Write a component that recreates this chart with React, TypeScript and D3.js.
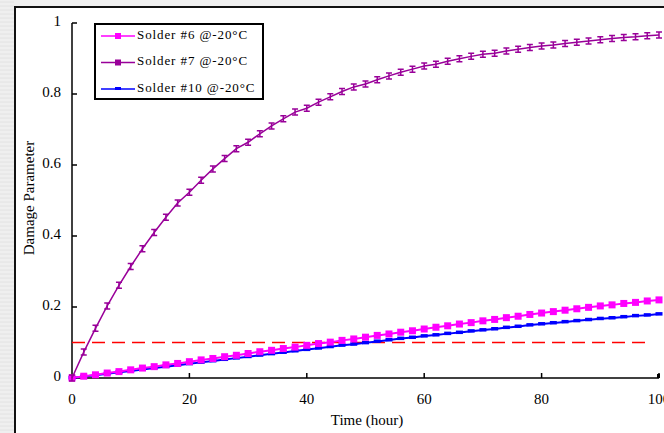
import React, { useRef, useEffect } from 'react';
import * as d3 from 'd3';

// time in hours, shared by all three series
const hours = [0, 2, 4, 6, 8, 10, 12, 14, 16, 18, 20, 22, 24, 26, 28, 30, 32, 34, 36, 38, 40,
  42, 44, 46, 48, 50, 52, 54, 56, 58, 60, 62, 64, 66, 68, 70, 72, 74, 76, 78, 80,
  82, 84, 86, 88, 90, 92, 94, 96, 98, 100];

const solder6 = [0, 0.005, 0.009, 0.014, 0.018, 0.023, 0.028, 0.032, 0.037, 0.041, 0.046,
  0.051, 0.055, 0.060, 0.064, 0.069, 0.074, 0.078, 0.083, 0.087, 0.092,
  0.097, 0.101, 0.106, 0.110, 0.115, 0.120, 0.124, 0.129, 0.133, 0.138,
  0.143, 0.147, 0.152, 0.156, 0.161, 0.165, 0.170, 0.174, 0.179, 0.183,
  0.187, 0.191, 0.195, 0.199, 0.203, 0.206, 0.210, 0.213, 0.217, 0.220];

const solder7 = [0, 0.073, 0.140, 0.203, 0.261, 0.314, 0.364, 0.410, 0.453, 0.493, 0.523,
  0.557, 0.589, 0.618, 0.646, 0.664, 0.688, 0.710, 0.730, 0.749, 0.760,
  0.777, 0.792, 0.807, 0.820, 0.828, 0.840, 0.851, 0.861, 0.870, 0.879,
  0.884, 0.892, 0.899, 0.906, 0.912, 0.915, 0.921, 0.926, 0.931, 0.935,
  0.938, 0.942, 0.946, 0.949, 0.953, 0.956, 0.959, 0.961, 0.964, 0.966];

const solder10 = [0, 0.004, 0.008, 0.012, 0.016, 0.020, 0.024, 0.028, 0.032, 0.036, 0.040,
  0.044, 0.048, 0.052, 0.056, 0.060, 0.064, 0.068, 0.072, 0.076, 0.080,
  0.084, 0.088, 0.092, 0.095, 0.099, 0.103, 0.107, 0.111, 0.114, 0.118,
  0.121, 0.125, 0.128, 0.132, 0.135, 0.138, 0.142, 0.145, 0.149, 0.152,
  0.155, 0.158, 0.161, 0.164, 0.167, 0.169, 0.172, 0.175, 0.177, 0.180];

const threshold = 0.1;
const xTicks = [0, 20, 40, 60, 80, 100];
const yTicks = [0, 0.2, 0.4, 0.6, 0.8, 1];
const legendLabels = ['Solder #6 @-20°C', 'Solder #7 @-20°C', 'Solder #10 @-20°C'];

const App = () => {
  const chartRef = useRef(null);

  useEffect(() => {
    const el = chartRef.current;
    if (!el) return;
    d3.select(el).selectAll('*').remove();

    const width = 664;
    const height = 433;
    const font = '"Liberation Serif", "Times New Roman", serif';

    const x = d3.scaleLinear().domain([0, 100]).range([72, 659]);
    const y = d3.scaleLinear().domain([0, 1]).range([378, 23]);

    const svg = d3.select(el)
      .append('svg')
      .attr('width', width)
      .attr('height', height)
      .attr('style', 'position:absolute;left:0;top:0;background:#fff');

    // grey page border, like a slide frame
    svg.append('rect').attr('x', 0).attr('y', 0).attr('width', 14).attr('height', height).attr('fill', '#efefef');
    svg.append('rect').attr('x', 0).attr('y', 0).attr('width', width).attr('height', 6).attr('fill', '#efefef');
    svg.append('g')
      .selectAll('line')
      .data(d3.range(2, height, 4))
      .join('line')
      .attr('x1', 0).attr('x2', 14)
      .attr('y1', d => d).attr('y2', d => d)
      .attr('stroke', '#e2e2e2');
    svg.append('path')
      .attr('d', `M15,${height} L15,7 L${width},7`)
      .attr('fill', 'none')
      .attr('stroke', '#111')
      .attr('stroke-width', 2);

    // axes
    const axis = svg.append('g').attr('stroke', '#000').attr('stroke-width', 1.5);
    axis.append('line').attr('x1', x(0)).attr('x2', x(0)).attr('y1', y(1)).attr('y2', y(0));
    axis.append('line').attr('x1', x(0)).attr('x2', x(100)).attr('y1', y(0)).attr('y2', y(0));
    axis.selectAll('.yt').data(yTicks).join('line')
      .attr('x1', x(0)).attr('x2', x(0) + 5)
      .attr('y1', d => y(d)).attr('y2', d => y(d));
    axis.selectAll('.xt').data(xTicks.slice(1)).join('line')
      .attr('x1', d => x(d)).attr('x2', d => x(d))
      .attr('y1', y(0)).attr('y2', y(0) - 5);
    svg.append('rect').attr('x', x(100) - 2).attr('y', y(0) - 4).attr('width', 3).attr('height', 4).attr('fill', '#000');

    svg.append('g').selectAll('text').data(yTicks).join('text')
      .attr('x', 61).attr('y', d => y(d))
      .attr('text-anchor', 'end').attr('dominant-baseline', 'middle')
      .attr('font-family', font).attr('font-size', 15)
      .text(d => d3.format('~g')(d));

    // the last label runs past the right edge, as in the original
    svg.append('g').selectAll('text').data(xTicks).join('text')
      .attr('x', d => x(d)).attr('y', 401)
      .attr('text-anchor', 'middle').attr('dominant-baseline', 'middle')
      .attr('font-family', font).attr('font-size', 15)
      .text(d => d);

    svg.append('text')
      .attr('transform', 'translate(31,198) rotate(-90)')
      .attr('text-anchor', 'middle').attr('dominant-baseline', 'middle')
      .attr('font-family', font).attr('font-size', 15)
      .text('Damage Parameter');

    svg.append('text')
      .attr('x', 367).attr('y', 422)
      .attr('text-anchor', 'middle').attr('dominant-baseline', 'middle')
      .attr('font-family', font).attr('font-size', 15)
      .text('Time (hour)');

    // threshold line
    svg.append('line')
      .attr('x1', x(0)).attr('x2', x(98.5))
      .attr('y1', y(threshold)).attr('y2', y(threshold))
      .attr('stroke', '#ff0000').attr('stroke-width', 1.5)
      .attr('stroke-dasharray', '13,7');

    const line = d3.line().x(d => x(d[0])).y(d => y(d[1]));
    const pts = vals => hours.map((h, i) => [h, vals[i]]);

    // solder #10 (blue)
    svg.append('path').datum(pts(solder10))
      .attr('fill', 'none').attr('stroke', '#0000ff').attr('stroke-width', 2).attr('d', line);
    svg.append('g').selectAll('rect').data(pts(solder10)).join('rect')
      .attr('x', d => x(d[0]) - 3.5).attr('y', d => y(d[1]) - 2)
      .attr('width', 7).attr('height', 3.5).attr('fill', '#0000ff');

    // solder #6 (magenta)
    svg.append('path').datum(pts(solder6))
      .attr('fill', 'none').attr('stroke', '#ff00ff').attr('stroke-width', 2).attr('d', line);
    svg.append('g').selectAll('rect').data(pts(solder6)).join('rect')
      .attr('x', d => x(d[0]) - 3.5).attr('y', d => y(d[1]) - 3.5)
      .attr('width', 7).attr('height', 7).attr('fill', '#ff00ff');

    // solder #7 (purple)
    svg.append('path').datum(pts(solder7))
      .attr('fill', 'none').attr('stroke', '#990099').attr('stroke-width', 1.5).attr('d', line);
    svg.append('g').selectAll('path').data(pts(solder7)).join('path')
      .attr('transform', d => `translate(${x(d[0])},${y(d[1])})`)
      .attr('d', 'M-3,-3L3,-3M0,-3L0,3M-3,3L3,3')
      .attr('fill', 'none').attr('stroke', '#990099').attr('stroke-width', 1.5);

    // legend
    const legend = svg.append('g');
    legend.append('rect')
      .attr('x', 95).attr('y', 24).attr('width', 168).attr('height', 75)
      .attr('fill', '#fff').attr('stroke', '#000').attr('stroke-width', 2);
    const colors = ['#ff00ff', '#990099', '#0000ff'];
    legendLabels.forEach((label, i) => {
      const ly = 36 + i * 26.5;
      legend.append('line').attr('x1', 101).attr('x2', 135).attr('y1', ly).attr('y2', ly)
        .attr('stroke', colors[i]).attr('stroke-width', 1.5);
      if (i < 2) {
        legend.append('rect').attr('x', 115).attr('y', ly - 3).attr('width', 6).attr('height', 6).attr('fill', colors[i]);
      } else {
        legend.append('rect').attr('x', 115).attr('y', ly - 2).attr('width', 6).attr('height', 3).attr('fill', colors[i]);
      }
      legend.append('text')
        .attr('x', 137).attr('y', ly)
        .attr('dominant-baseline', 'middle')
        .attr('font-family', font).attr('font-size', 13)
        .attr('letter-spacing', 0.9)
        .text(label);
    });
  }, []);

  return <div ref={chartRef}></div>;
};

export default App;
